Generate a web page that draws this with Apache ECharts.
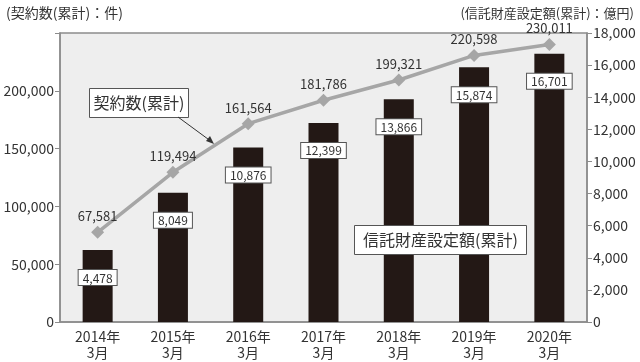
<!DOCTYPE html>
<html><head><meta charset="utf-8">
<script src="https://cdn.jsdelivr.net/npm/echarts@6/dist/echarts.min.js"></script>
<style>html,body{margin:0;padding:0;background:#fff}#c{width:640px;height:362px}</style>
</head><body><div id="c"></div>
<script>
var categories = ['2014年\n3月','2015年\n3月','2016年\n3月','2017年\n3月','2018年\n3月','2019年\n3月','2020年\n3月'];
var contracts = [67581, 119494, 161564, 181786, 199321, 220598, 230011];
var trustAmount = [4478, 8049, 10876, 12399, 13866, 15874, 16701];
var leftTicks = [0, 50000, 100000, 150000, 200000];

var FONT = '"Noto Sans CJK JP", Roboto, sans-serif';
var chart = echarts.init(document.getElementById('c'));
function fmt(v){ return v.toLocaleString('en-US'); }

chart.setOption({
  animation: false,
  textStyle: { fontFamily: FONT },
  grid: { left: 60, right: 53, top: 33, bottom: 40, show: true, backgroundColor: '#eeeeee', borderColor: '#8c8c8c', borderWidth: 1.5 },
  xAxis: {
    type: 'category', data: categories,
    axisLine: { lineStyle: { color: '#8c8c8c', width: 1.5 } },
    axisTick: { inside: true, length: 5, lineStyle: { color: '#8c8c8c' } },
    axisLabel: { color: '#333', fontSize: 14, lineHeight: 16, margin: 7, fontFamily: FONT }
  },
  yAxis: [
    { type: 'value', min: 0, max: 250000, interval: 50000, position: 'left',
      splitLine: { show: false },
      axisLine: { show: true, lineStyle: { color: '#8c8c8c', width: 1.5 } },
      axisTick: { show: true, length: 5, lineStyle: { color: '#8c8c8c' } },
      axisLabel: { color: '#333', fontSize: 14, margin: 6, fontFamily: FONT,
        formatter: function(v){ return leftTicks.indexOf(v) >= 0 ? fmt(v) : ''; } } },
    { type: 'value', min: 0, max: 18000, interval: 2000, position: 'right',
      splitLine: { show: false },
      axisLine: { show: true, lineStyle: { color: '#8c8c8c', width: 1.5 } },
      axisTick: { show: true, length: 5, lineStyle: { color: '#8c8c8c' } },
      axisLabel: { color: '#333', fontSize: 14, margin: 6, fontFamily: FONT, formatter: function(v){ return fmt(v); } } },
    { type: 'value', min: -10000, max: 240000, show: false, position: 'left' }
  ],
  series: [
    { type: 'bar', yAxisIndex: 1, data: trustAmount, barWidth: 30,
      itemStyle: { color: '#231815' },
      label: { show: true, position: 'insideTop', distance: 20, color: '#333', fontSize: 12, fontFamily: FONT,
        backgroundColor: '#fff', borderColor: '#555', borderWidth: 1, padding: [2, 4, 1, 4],
        formatter: function(p){ return fmt(p.value); } } },
    { type: 'line', yAxisIndex: 2, data: contracts,
      symbol: 'diamond', symbolSize: 13,
      lineStyle: { color: '#a6a6a6', width: 3.5 },
      itemStyle: { color: '#a6a6a6' },
      label: { show: true, position: 'top', distance: 3, color: '#333', fontSize: 13, fontFamily: FONT,
        formatter: function(p){ return fmt(p.value); } },
      z: 3 }
  ],
  graphic: [
    { type: 'text', left: 6, top: 6, z: 100, style: { text: '(契約数(累計)：件)', fill: '#333', font: '14px ' + FONT } },
    { type: 'text', right: 6, top: 7, z: 100, style: { text: '(信託財産設定額(累計)：億円)', fill: '#333', font: '13px ' + FONT } },
    { type: 'group', left: 89, top: 88, z: 100, children: [
      { type: 'rect', z: 100, shape: { x: 0, y: 0, width: 99, height: 29 }, style: { fill: '#fff', stroke: '#555', lineWidth: 1 } },
      { type: 'text', z: 101, x: 49.5, y: 14.5, style: { text: '契約数(累計)', fill: '#333', font: '16px ' + FONT, align: 'center', verticalAlign: 'middle' } }
    ]},
    { type: 'line', z: 100, shape: { x1: 178, y1: 117, x2: 212, y2: 142 }, style: { stroke: '#333', lineWidth: 1 } },
    { type: 'polygon', z: 100, shape: { points: [[214, 144], [206, 141], [210, 136]] }, style: { fill: '#333' } },
    { type: 'group', left: 354, top: 225, z: 100, children: [
      { type: 'rect', z: 100, shape: { x: 0, y: 0, width: 172, height: 29 }, style: { fill: '#fff', stroke: '#555', lineWidth: 1 } },
      { type: 'text', z: 101, x: 86, y: 14.5, style: { text: '信託財産設定額(累計)', fill: '#333', font: '16px ' + FONT, align: 'center', verticalAlign: 'middle' } }
    ]}
  ]
});
</script></body></html>
